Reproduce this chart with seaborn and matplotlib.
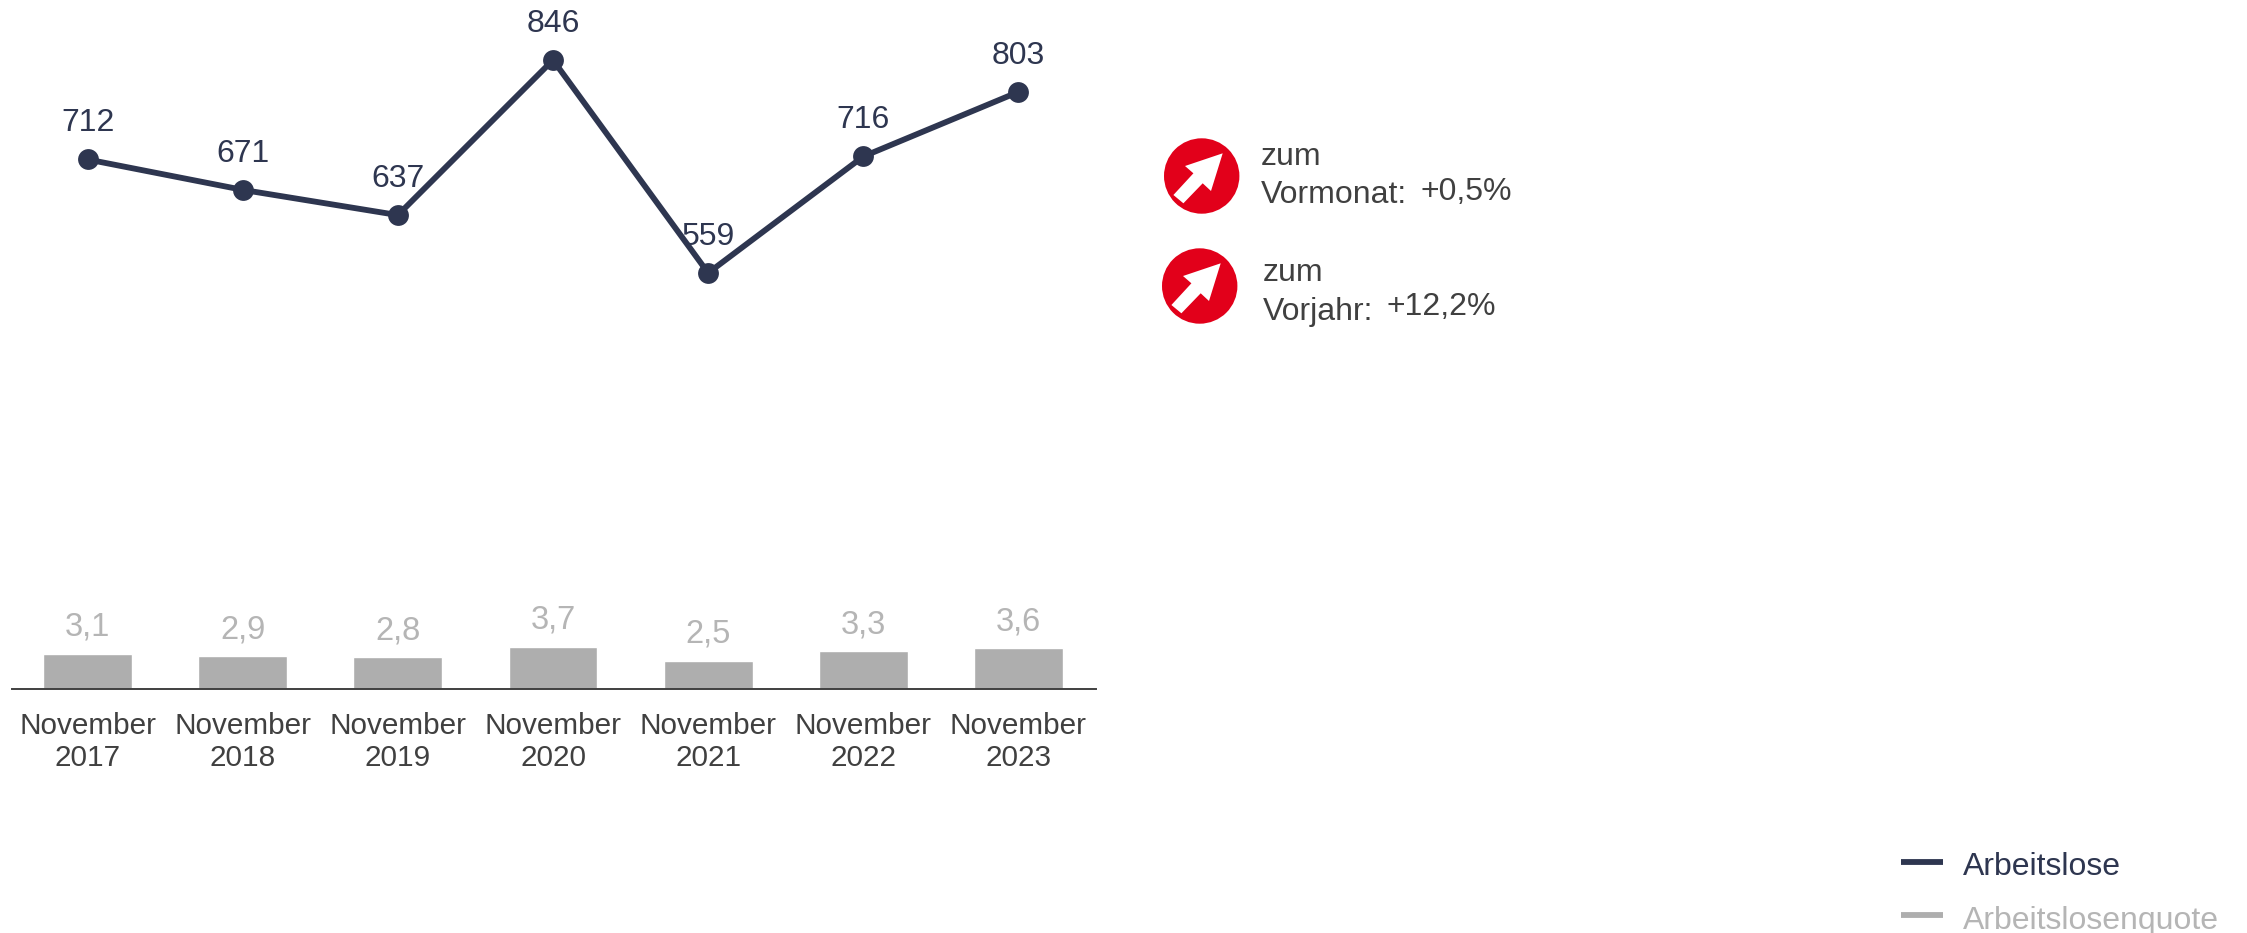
import matplotlib
matplotlib.use('Agg')
import matplotlib.pyplot as plt
import pandas as pd
import seaborn as sns
from matplotlib.patches import Circle, Polygon

W, H = 2247, 933
DPI = 100

months = ['November\n2017', 'November\n2018', 'November\n2019', 'November\n2020',
          'November\n2021', 'November\n2022', 'November\n2023']
arbeitslose = [712, 671, 637, 846, 559, 716, 803]
quote = [3.1, 2.9, 2.8, 3.7, 2.5, 3.3, 3.6]
quote_labels = ['3,1', '2,9', '2,8', '3,7', '2,5', '3,3', '3,6']

NAVY = '#2E3650'
GREY = '#AEAEAE'
GREY_TXT = '#B5B5B5'
DARK = '#404040'
RED = '#E2001A'

sns.set_theme(style='white')
plt.rcParams['font.family'] = ['Liberation Sans', 'DejaVu Sans']

df = pd.DataFrame({'month': months, 'arbeitslose': arbeitslose, 'quote': quote})

fig = plt.figure(figsize=(W / DPI, H / DPI), dpi=DPI, facecolor='white')

# axes rect in pixels: x 10..1096, baseline at y=689
rect = [10 / W, (H - 689) / H, 1086 / W, 689 / H]

# ── bars (Arbeitslosenquote) ──
ax_bar = fig.add_axes(rect)
sns.barplot(data=df, x='month', y='quote', color=GREY, saturation=1, width=0.572, ax=ax_bar)
ax_bar.set_xlim(-0.5, 6.5)
ax_bar.set_ylim(0, 689 / 11.4)
ax_bar.set_xlabel('')
ax_bar.set_ylabel('')
ax_bar.set_yticks([])
ax_bar.tick_params(axis='x', length=0, labelsize=21.4, labelcolor=DARK, pad=16.5)
for lab in ax_bar.get_xticklabels():
    lab.set_linespacing(1.18)
sns.despine(ax=ax_bar, left=True)
ax_bar.spines['bottom'].set_color(DARK)
ax_bar.spines['bottom'].set_linewidth(1.4)
ax_bar.spines['bottom'].set_bounds(-0.49, 6.5)
for i, v in enumerate(quote):
    ax_bar.annotate(quote_labels[i], (i, v), xytext=(0, 19), textcoords='offset points',
                    ha='center', va='center', fontsize=23.5, color=GREY_TXT)

# ── line (Arbeitslose) ──
ax_line = fig.add_axes(rect)
ax_line.patch.set_alpha(0)
sns.lineplot(data=df, x='month', y='arbeitslose', color=NAVY, linewidth=4.2, marker='o',
             markersize=15, markeredgewidth=0, sort=False, ax=ax_line)
ax_line.set_xlim(-0.5, 6.5)
ax_line.set_ylim(-1.7, 926.9)
ax_line.axis('off')
for i, v in enumerate(arbeitslose):
    ax_line.annotate(str(v), (i, v), xytext=(0, 26), textcoords='offset points',
                     ha='center', va='center', fontsize=23, color=NAVY)

# ── overlay in pixel coordinates: trend badges and legend ──
ov = fig.add_axes([0, 0, 1, 1])
ov.set_xlim(0, W)
ov.set_ylim(H, 0)
ov.axis('off')
ov.patch.set_alpha(0)

ARROW = [(21, -22.7), (-16.7, -10), (-8.3, -2.7), (-28.3, 19), (-18.3, 27.3), (1, 7.3), (9.3, 15)]


def badge(cx, cy):
    ov.add_patch(Circle((cx, cy), 37.7, facecolor=RED, edgecolor='none'))
    ov.add_patch(Polygon([(cx + dx, cy + dy) for dx, dy in ARROW], closed=True,
                         facecolor='white', edgecolor='none'))


badge(1201.7, 176)
badge(1199.7, 286)

ov.text(1261, 157, 'zum', fontsize=23, color=DARK, va='center')
ov.text(1261, 195, 'Vormonat:', fontsize=23, color=DARK, va='center')
ov.text(1421, 192, '+0,5%', fontsize=23, color=DARK, va='center')
ov.text(1263, 273, 'zum', fontsize=23, color=DARK, va='center')
ov.text(1263, 312, 'Vorjahr:', fontsize=23, color=DARK, va='center')
ov.text(1387, 307, '+12,2%', fontsize=23, color=DARK, va='center')

ov.plot([1901, 1943], [862, 862], color=NAVY, lw=4.2, solid_capstyle='butt')
ov.plot([1901, 1943], [914.5, 914.5], color=GREY, lw=4.2, solid_capstyle='butt')
ov.text(1963, 867, 'Arbeitslose', fontsize=23, color=NAVY, va='center')
ov.text(1963, 921, 'Arbeitslosenquote', fontsize=23, color=GREY_TXT, va='center')

fig.savefig('out.png', dpi=DPI, facecolor='white')
plt.close(fig)
